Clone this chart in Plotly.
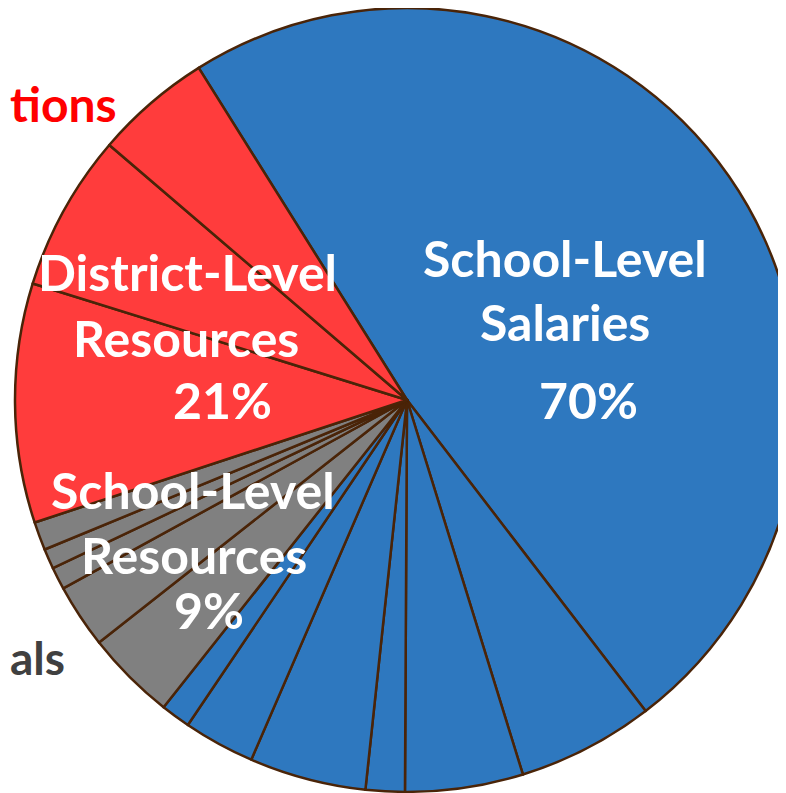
import plotly.graph_objects as go

# Slice data (percent of total), clockwise starting at the large blue slice
slice_names = [
    "School-Level Salaries A", "School-Level Salaries B", "School-Level Salaries C",
    "School-Level Salaries D", "School-Level Salaries E", "School-Level Salaries F",
    "School-Level Salaries G",
    "School-Level Resources A", "School-Level Resources B", "School-Level Resources C",
    "School-Level Resources D", "School-Level Resources E",
    "District-Level Resources A", "District-Level Resources B", "District-Level Resources C",
]
slice_values = [48.5, 5.64, 4.86, 1.61, 4.81, 2.94, 1.22,
                3.72, 2.64, 0.92, 0.83, 1.17,
                9.86, 6.47, 4.81]
slice_groups = ["salary"] * 7 + ["school"] * 5 + ["district"] * 3

group_colors = {"salary": "#2E78BF", "school": "#808080", "district": "#FF3C3C"}

W, H = 800, 800
OFF = 8  # page offset of the figure

def px(sx):
    return (sx - OFF) / W

def py(sy):
    return 1 - (sy - OFF) / H

fig = go.Figure(go.Pie(
    labels=slice_names,
    values=slice_values,
    sort=False,
    direction="clockwise",
    rotation=-32.1,
    marker=dict(colors=[group_colors[g] for g in slice_groups],
                line=dict(color="#4A2408", width=2.5)),
    textinfo="none",
    hoverinfo="label+percent",
    showlegend=False,
    domain=dict(x=[px(15), px(799)], y=[py(792), py(8)]),
))

FAM = "Lato, Open Sans, sans-serif"
white = dict(family=FAM, size=50, color="white", weight="bold")
ann = [
    ("School-Level", 565, 258), ("Salaries", 565, 322), ("70%", 588, 400),
    ("District-Level", 187, 272), ("Resources", 186, 338), ("21%", 222, 400),
    ("School-Level", 193, 490), ("Resources", 194, 555), ("9%", 209, 610),
]
annotations = [dict(text=t, x=px(x), y=py(y), xref="paper", yref="paper",
                    showarrow=False, xanchor="center", yanchor="middle", font=white)
               for t, x, y in ann]
annotations.append(dict(text="tions", x=0, y=py(103), xref="paper", yref="paper",
                        showarrow=False, xanchor="left", yanchor="middle",
                        font=dict(family=FAM, size=48, color="#FF0000", weight="bold")))
annotations.append(dict(text="als", x=0, y=py(657), xref="paper", yref="paper",
                        showarrow=False, xanchor="left", yanchor="middle",
                        font=dict(family=FAM, size=46, color="#404040", weight="bold")))

fig.update_layout(
    width=W, height=H,
    margin=dict(l=0, r=0, t=0, b=0),
    paper_bgcolor="white",
    plot_bgcolor="white",
    annotations=annotations,
)

fig.write_html("out.html")
